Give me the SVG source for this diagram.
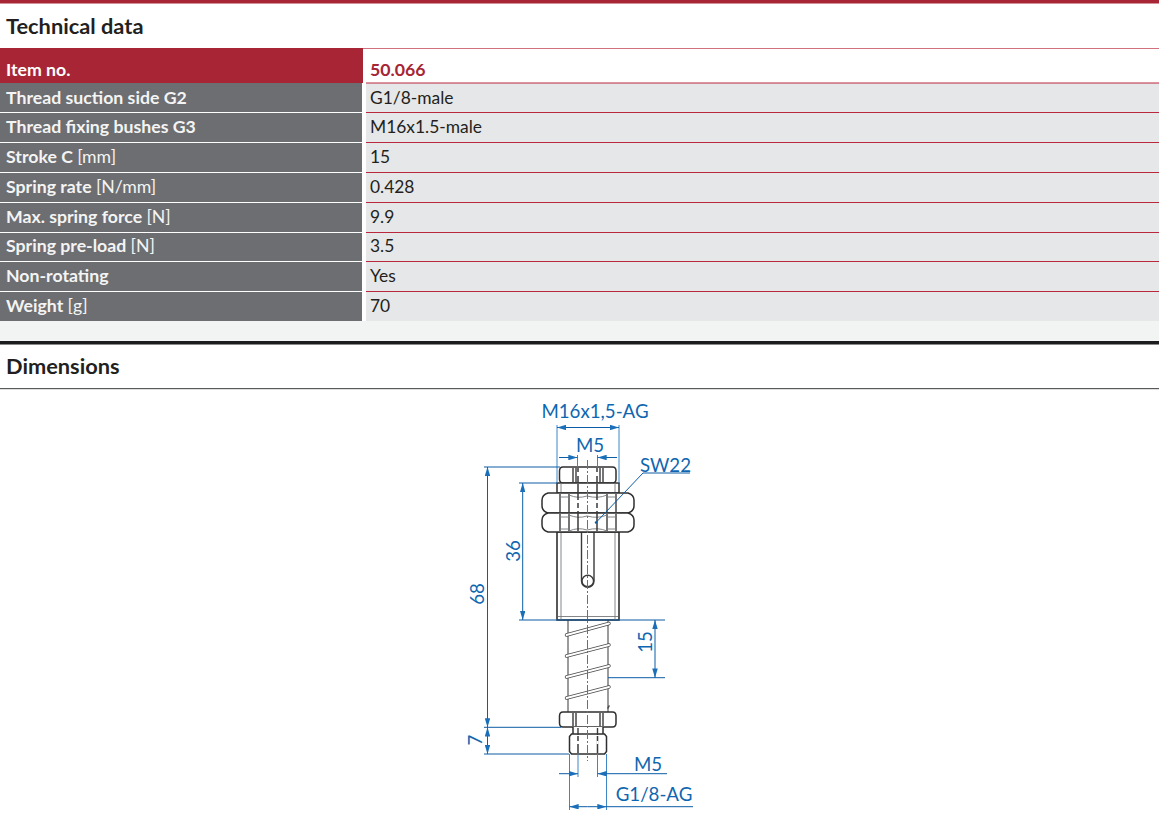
<svg xmlns="http://www.w3.org/2000/svg" width="1159" height="822" viewBox="0 0 1159 822">
<style>
text{font-family:"Lato","Liberation Sans",sans-serif;}
.h{font-size:21.8px;font-weight:700;fill:#231f20}
.l{font-size:17.7px;font-weight:700;fill:#f4f4f4}
.u{font-weight:400}
.v{font-size:17.4px;fill:#231f20}
.lb{fill:#6d6e71}
.vb{fill:#e6e7e8}
.rl{stroke:#b9283c;stroke-width:1.2}
.d{font-size:18.7px;fill:#0f66b0}
.m{fill:none;stroke:#3a3a3c;stroke-width:1.4}
.t{fill:none;stroke:#77787b;stroke-width:.9}
.w{fill:#fff;stroke:#2f2f31;stroke-width:1.5}
.dl{fill:none;stroke:#0c5da5;stroke-width:1}
.el{fill:none;stroke:#3e86c6;stroke-width:1}
.cl{fill:none;stroke:#2e7fc4;stroke-width:1;stroke-dasharray:9 2 2 2}
</style>
<defs>
<marker id="a" viewBox="0 0 10 6" markerWidth="9.5" markerHeight="5.5" refX="10" refY="3" orient="auto-start-reverse" markerUnits="userSpaceOnUse"><path d="M0 0L10 3L0 6Z" fill="#1a6fb8"/></marker>
</defs>
<rect width="1159" height="822" fill="#fff"/>
<rect x="0" y="0" width="1159" height="3.5" fill="#a72534"/>
<text class="h" x="6" y="34">Technical data</text>
<g id="table">
<rect x="0" y="48" width="363" height="35" fill="#a72534"/>
<line x1="363" y1="48.500" x2="1159" y2="48.500" stroke="#d0717d" stroke-width="1"/>
<text x="6" y="76" class="l" style="fill:#fff">Item no.</text>
<text x="370" y="76" class="l" style="fill:#a72534">50.066</text>
<g id="row-g2"><rect class="lb" x="0" y="83" width="362" height="29"/><rect class="vb" x="366" y="83" width="793" height="29"/><text class="l" x="6" y="104">Thread suction side G2</text><text class="v" x="370" y="104">G1/8-male</text></g>
<g id="row-g3"><rect class="lb" x="0" y="113" width="362" height="29"/><rect class="vb" x="366" y="113" width="793" height="29"/><text class="l" x="6" y="133">Thread fixing bushes G3</text><text class="v" x="370" y="133">M16x1.5-male</text></g>
<g id="row-stroke"><rect class="lb" x="0" y="143" width="362" height="29"/><rect class="vb" x="366" y="143" width="793" height="29"/><text class="l" x="6" y="163">Stroke C <tspan class="u">[mm]</tspan></text><text class="v" x="370" y="163">15</text></g>
<g id="row-rate"><rect class="lb" x="0" y="173" width="362" height="29"/><rect class="vb" x="366" y="173" width="793" height="29"/><text class="l" x="6" y="193">Spring rate <tspan class="u">[N/mm]</tspan></text><text class="v" x="370" y="193">0.428</text></g>
<g id="row-force"><rect class="lb" x="0" y="203" width="362" height="29"/><rect class="vb" x="366" y="203" width="793" height="29"/><text class="l" x="6" y="223">Max. spring force <tspan class="u">[N]</tspan></text><text class="v" x="370" y="223">9.9</text></g>
<g id="row-preload"><rect class="lb" x="0" y="233" width="362" height="28"/><rect class="vb" x="366" y="233" width="793" height="28"/><text class="l" x="6" y="252">Spring pre-load <tspan class="u">[N]</tspan></text><text class="v" x="370" y="252">3.5</text></g>
<g id="row-rot"><rect class="lb" x="0" y="262" width="362" height="29"/><rect class="vb" x="366" y="262" width="793" height="29"/><text class="l" x="6" y="282">Non-rotating</text><text class="v" x="370" y="282">Yes</text></g>
<g id="row-weight"><rect class="lb" x="0" y="292" width="362" height="29"/><rect class="vb" x="366" y="292" width="793" height="29"/><text class="l" x="6" y="312">Weight <tspan class="u">[g]</tspan></text><text class="v" x="370" y="312">70</text></g>
<g>
<line class="rl" x1="366" y1="83" x2="1159" y2="83"/><line class="rl" x1="366" y1="112.500" x2="1159" y2="112.500"/><line class="rl" x1="366" y1="142.500" x2="1159" y2="142.500"/><line class="rl" x1="366" y1="172.500" x2="1159" y2="172.500"/><line class="rl" x1="366" y1="202.500" x2="1159" y2="202.500"/><line class="rl" x1="366" y1="232.500" x2="1159" y2="232.500"/><line class="rl" x1="366" y1="261.500" x2="1159" y2="261.500"/><line class="rl" x1="366" y1="291.500" x2="1159" y2="291.500"/>
</g>
</g>
<rect x="0" y="321" width="1159" height="20" fill="#f2f4f4"/>
<rect x="0" y="341" width="1159" height="3" fill="#1c1c1e"/>
<rect x="0" y="344" width="1159" height="1" fill="#8a8a8c"/>
<text class="h" x="6" y="374">Dimensions</text>
<rect x="0" y="388" width="1159" height="1.200" fill="#58595b"/>

<g id="part">
<path d="M568 620V712M608 620V712" fill="none" stroke="#4a4a4c" stroke-width="1.100"/>
<g fill="none" stroke-linecap="round">
<path stroke="#4a4a4c" stroke-width="3.400" d="M566.500 635L609 623.500M566.500 656L609 645M566.500 677L609 666M566.500 698L609 687"/>
<path stroke="#fff" stroke-width="1.900" d="M566.500 635L609 623.500M566.500 656L609 645M566.500 677L609 666M566.500 698L609 687"/>
<path d="M608 708L609 706" stroke="#4a4a4c" stroke-width="1.600"/>
</g>
<rect class="w" x="557" y="532" width="62" height="88" style="stroke-width:1.600"/>
<path class="t" d="M561 532V620M615 532V620M558 616.500H618"/>
<path class="m" d="M581.500 532V581A6.250 6.250 0 0 0 594 581V532"/>
<circle class="m" cx="587.750" cy="581" r="5.800"/>
<path class="w" d="M563 467H612.500Q616 467 616 471V479Q616 483 612.500 483H563Q559.500 483 559.500 479V471Q559.500 467 563 467Z"/>
<path class="m" d="M573 468V482M576 468V482M600 468V482M603 468V482"/>
<rect class="w" x="557" y="483" width="62" height="10"/>
<path class="t" d="M561 483V493M615 483V493"/>
<path class="w" d="M548 493H628Q634 495 634 500V506Q634 511 628 513H548Q542 511 542 506V500Q542 495 548 493Z"/>
<path class="w" d="M548 513H628Q634 515 634 520V525Q634 530 628 532H548Q542 530 542 525V520Q542 515 548 513Z"/>
<path class="m" d="M560 494V512M569 494V512M607 494V512M616 494V512M560 514V531M569 514V531M607 514V531M616 514V531"/>
<path class="t" d="M560 497H569M607 497H616M560 529H569M607 529H616M560 517H569M607 517H616M569 495Q578 499 587 496Q598 499 607 495M569 531Q578 527 587 530Q598 527 607 531M569 515Q578 519 587 516Q598 519 607 515"/>
<path class="w" d="M563 712H612.500Q616 712 616 716V723Q616 727 612.500 727H563Q559.500 727 559.500 723V716Q559.500 712 563 712Z"/>
<path class="m" d="M573 713V726M576 713V726M600 713V726M603 713V726"/>
<path class="w" d="M573 727V735H603V727"/>
<path class="w" d="M571.500 734H604.500L606.500 736.500V751.500L604.500 754H571.500L569.500 751.500V736.500Z"/>
<path class="m" d="M578 728V735M597.500 728V735"/>
<path d="M578 468V482M597 468V482M578 484V531M597 484V531M578 736V753M597.500 736V753" stroke="#3a3a3c" stroke-width="1.500" fill="none"/>
<path d="M578 472V476M597 472V476M578 500V503M597 500V503M578 508V511M597 508V511M578 741V744M597.500 741V744" stroke="#fff" stroke-width="2" fill="none"/>
<path class="cl" d="M587.500 460V761"/>
</g>

<g id="connectors">
<path class="el" d="M557 425V483M619 425V483M577.500 455V467M597.500 455V467"/>
<path class="el" d="M569.500 754V810M606.500 754V810M578 754V777M597.500 754V777"/>
<line class="dl" x1="557" y1="427.500" x2="619" y2="427.500" marker-start="url(#a)" marker-end="url(#a)"/>
<line class="dl" x1="559" y1="457.500" x2="577.500" y2="457.500" marker-end="url(#a)"/>
<line class="dl" x1="617" y1="457.500" x2="597.500" y2="457.500" marker-end="url(#a)"/>
<path class="dl" d="M484 467H560M519 483H557M519 620H665M484 727.300H561M484 754H569M608 677.700H665"/>
<line class="dl" x1="487.500" y1="467" x2="487.500" y2="727.300" marker-start="url(#a)" marker-end="url(#a)"/>
<line class="dl" x1="522.700" y1="483" x2="522.700" y2="620" marker-start="url(#a)" marker-end="url(#a)"/>
<line class="dl" x1="655" y1="620" x2="655" y2="677.700" marker-start="url(#a)" marker-end="url(#a)"/>
<line class="dl" x1="487.500" y1="727.300" x2="487.500" y2="754" marker-start="url(#a)" marker-end="url(#a)"/>
<line class="dl" x1="559" y1="773.700" x2="578" y2="773.700" marker-end="url(#a)"/>
<line class="dl" x1="667" y1="773.700" x2="597.500" y2="773.700" marker-end="url(#a)"/>
<line class="dl" x1="587.500" y1="806.700" x2="569.500" y2="806.700" marker-end="url(#a)"/>
<line class="dl" x1="587.500" y1="806.700" x2="606.500" y2="806.700" marker-end="url(#a)"/>
<line class="dl" x1="606.500" y1="806.700" x2="693" y2="806.700"/>
<path class="dl" d="M690 473H643L596 522.500"/>
<circle cx="596" cy="522.500" r="1.200" fill="#0c5da5"/>
</g>

<g id="dimension-labels">
<text class="d" x="595" y="418" text-anchor="middle">M16x1,5-AG</text>
<text class="d" x="590" y="452" text-anchor="middle">M5</text>
<text class="d" x="665.500" y="472" text-anchor="middle">SW22</text>
<text class="d" x="648" y="771" text-anchor="middle">M5</text>
<text class="d" x="654" y="801" text-anchor="middle">G1/8-AG</text>
<text class="d" text-anchor="middle" transform="translate(484 594) rotate(-90)">68</text>
<text class="d" text-anchor="middle" transform="translate(520 551) rotate(-90)">36</text>
<text class="d" text-anchor="middle" transform="translate(652 642) rotate(-90)">15</text>
<text class="d" text-anchor="middle" transform="translate(482 740) rotate(-90)">7</text>
</g>
</svg>
